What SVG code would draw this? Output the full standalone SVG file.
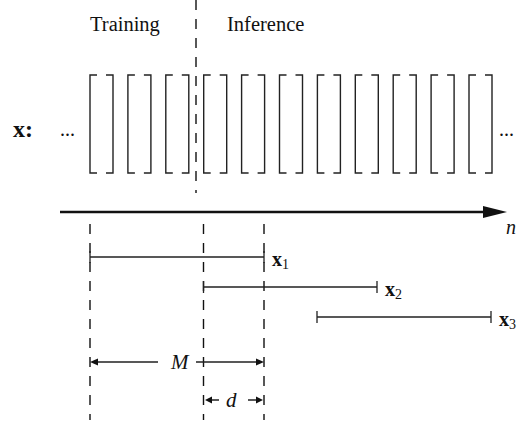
<svg xmlns="http://www.w3.org/2000/svg" width="521" height="423" viewBox="0 0 521 423">
<style>
  text { font-family: "Liberation Serif", "Times New Roman", Times, "DejaVu Serif", serif; fill: #111; }
  .br { fill: none; stroke: #222; stroke-width: 1.4; }
  .dash { stroke: #111; stroke-width: 1.4; stroke-dasharray: 10 9; fill: none; }
  .seg { stroke: #222; stroke-width: 1.3; fill: none; }
  .ah { fill: #111; }
</style>
<defs>
  <path id="frame" d="M7,75 H0 V173 H7 M16,75 H23 V173 H16"/>
</defs>
<rect width="521" height="423" fill="#fff"/>

<g id="labels">
  <text x="90" y="31" font-size="20.5">Training</text>
  <text x="227" y="31" font-size="20.5">Inference</text>
  <text x="13" y="137" font-size="24" font-weight="bold">x:</text>
  <text x="60" y="136" font-size="20">...</text>
  <text x="499" y="136" font-size="20">...</text>
  <text x="506" y="234" font-size="20" font-style="italic">n</text>
</g>

<g id="frames">
  <use href="#frame" class="br" x="90"/>
  <use href="#frame" class="br" x="127.9"/>
  <use href="#frame" class="br" x="165.8"/>
  <use href="#frame" class="br" x="203.7"/>
  <use href="#frame" class="br" x="241.6"/>
  <use href="#frame" class="br" x="279.5"/>
  <use href="#frame" class="br" x="317.4"/>
  <use href="#frame" class="br" x="355.3"/>
  <use href="#frame" class="br" x="393.2"/>
  <use href="#frame" class="br" x="431.1"/>
  <use href="#frame" class="br" x="469"/>
</g>

<g id="connectors">
  <line class="dash" x1="196" y1="0" x2="196" y2="193"/>
  <line x1="60" y1="212" x2="488" y2="212" stroke="#111" stroke-width="2.6"/>
  <polygon class="ah" points="483,206 507,212 483,218"/>
  <line class="dash" x1="90" y1="224" x2="90" y2="420"/>
  <line class="dash" x1="203.5" y1="224" x2="203.5" y2="420"/>
  <line class="dash" x1="264" y1="224" x2="264" y2="420"/>
</g>

<g id="x1">
  <path class="seg" d="M90,257 H264 M90,251 V263 M264,251 V263"/>
  <text x="272" y="266" font-size="20" font-weight="bold">x<tspan font-size="14" font-weight="normal" dy="3">1</tspan></text>
</g>
<g id="x2">
  <path class="seg" d="M203.5,287 H377 M203.5,281 V293 M377,281 V293"/>
  <text x="385" y="296" font-size="20" font-weight="bold">x<tspan font-size="14" font-weight="normal" dy="3">2</tspan></text>
</g>
<g id="x3">
  <path class="seg" d="M317,317 H491 M317,311 V323 M491,311 V323"/>
  <text x="499" y="326" font-size="20" font-weight="bold">x<tspan font-size="14" font-weight="normal" dy="3">3</tspan></text>
</g>

<g id="M">
  <path class="seg" d="M96,362 H158 M196,362 H258"/>
  <polygon class="ah" points="90,362 98,358.5 98,365.5"/>
  <polygon class="ah" points="264,362 256,358.5 256,365.5"/>
  <text x="171" y="369" font-size="21" font-style="italic">M</text>
</g>
<g id="d">
  <path class="seg" d="M209,400 H219 M248,400 H258"/>
  <polygon class="ah" points="205,400 212,396.5 212,403.5"/>
  <polygon class="ah" points="263,400 256,396.5 256,403.5"/>
  <text x="226" y="407" font-size="21" font-style="italic">d</text>
</g>
</svg>
